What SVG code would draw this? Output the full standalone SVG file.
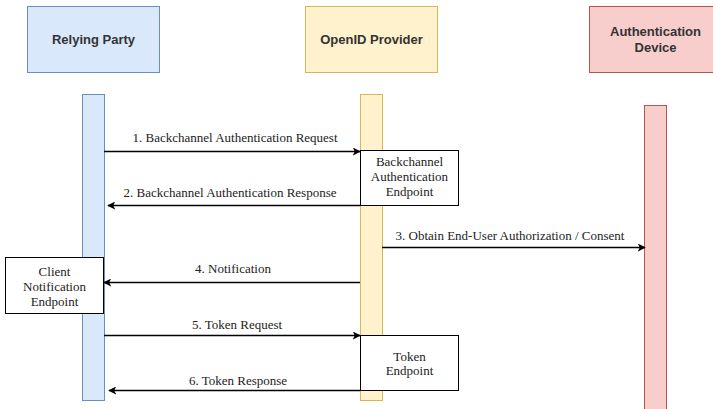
<svg xmlns="http://www.w3.org/2000/svg" width="713" height="409" viewBox="0 0 713 409">
<style>
.hdr{font-family:"Liberation Sans",Arial,sans-serif;font-size:13px;font-weight:bold;fill:#333;text-anchor:middle}
.lbl{font-family:"Liberation Serif","Times New Roman",serif;font-size:13px;fill:#222;text-anchor:middle}
.blue{fill:#dae8fc;stroke:#6c8ebf;stroke-width:1}
.yel{fill:#fff2cc;stroke:#d6b656;stroke-width:1}
.red{fill:#f8cecc;stroke:#b85450;stroke-width:1}
.box{fill:#fff;stroke:#000;stroke-width:1}
.msg{stroke:#000;stroke-width:1.3;fill:none;marker-end:url(#ah)}
</style>
<defs>
<marker id="ah" viewBox="0 0 10 10" refX="9" refY="5" markerWidth="8" markerHeight="8" markerUnits="userSpaceOnUse" orient="auto">
<path d="M0,0 L10,5 L0,10 L2.5,5 Z" fill="#000"/>
</marker>
</defs>
<rect width="713" height="409" fill="#fff"/>
<g id="relying-party">
<rect class="blue" x="27.5" y="6.5" width="132" height="66"/>
<text class="hdr" x="93.5" y="44">Relying Party</text>
<rect class="blue" x="82.5" y="94.5" width="22" height="306"/>
</g>
<g id="openid-provider">
<rect class="yel" x="305.5" y="6.5" width="132" height="66"/>
<text class="hdr" x="371.5" y="44">OpenID Provider</text>
<rect class="yel" x="360.5" y="94.5" width="22" height="306"/>
</g>
<g id="authentication-device">
<rect class="red" x="589.5" y="6.5" width="132" height="66"/>
<text class="hdr" x="655.5" y="36">Authentication</text>
<text class="hdr" x="655.5" y="52">Device</text>
<rect class="red" x="644.5" y="105.5" width="22" height="310"/>
</g>
<g id="backchannel-endpoint">
<rect class="box" x="360.5" y="150.5" width="98" height="55"/>
<text class="lbl" x="409.5" y="166">Backchannel</text>
<text class="lbl" x="409.5" y="181">Authentication</text>
<text class="lbl" x="409.5" y="196">Endpoint</text>
</g>
<g id="client-notification-endpoint">
<rect class="box" x="5.5" y="257.5" width="98" height="56"/>
<text class="lbl" x="54.5" y="276">Client</text>
<text class="lbl" x="54.5" y="291">Notification</text>
<text class="lbl" x="54.5" y="306">Endpoint</text>
</g>
<g id="token-endpoint">
<rect class="box" x="360.5" y="335.5" width="98" height="55"/>
<text class="lbl" x="409.5" y="361">Token</text>
<text class="lbl" x="409.5" y="375">Endpoint</text>
</g>
<g id="connectors">
<path class="msg" d="M104,151.5 H360"/>
<text class="lbl" x="235" y="142">1. Backchannel Authentication Request</text>
<path class="msg" d="M360,205.5 H108"/>
<text class="lbl" x="230" y="197">2. Backchannel Authentication Response</text>
<path class="msg" d="M382,247.5 H645"/>
<text class="lbl" x="510" y="240">3. Obtain End-User Authorization / Consent</text>
<path class="msg" d="M360,282.5 H104"/>
<text class="lbl" x="233" y="273">4. Notification</text>
<path class="msg" d="M104,335.5 H360"/>
<text class="lbl" x="237" y="329">5. Token Request</text>
<path class="msg" d="M360,390.5 H109"/>
<text class="lbl" x="238" y="385">6. Token Response</text>
</g>
</svg>
